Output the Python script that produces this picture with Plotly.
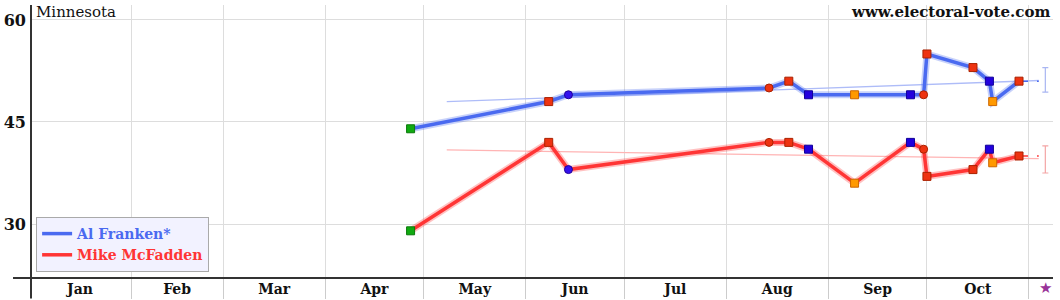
import plotly.graph_objects as go

# ---- data ----
poll_dates = ['2014-04-27', '2014-06-08', '2014-06-14', '2014-08-14', '2014-08-20',
              '2014-08-26', '2014-09-09', '2014-09-26', '2014-09-30', '2014-10-01',
              '2014-10-15', '2014-10-20', '2014-10-21', '2014-10-29']
franken = [44, 48, 49, 50, 51, 49, 49, 49, 49, 55, 53, 51, 48, 51]
mcfadden = [29, 42, 38, 42, 42, 41, 36, 42, 41, 37, 38, 41, 39, 40]
poll_symbol = ['square', 'square', 'circle', 'circle', 'square', 'square', 'square',
               'square', 'circle', 'square', 'square', 'square', 'square', 'square']
poll_color = ['#11aa11', '#ee3311', '#3311ee', '#ee3311', '#ee3311', '#2200dd', '#ff9900',
              '#2200dd', '#ee3311', '#ee3311', '#ee3311', '#2200dd', '#ff9900', '#ee3311']
poll_edge = ['#0a7a0a', '#aa2200', '#220099', '#aa2200', '#aa2200', '#110099', '#cc6600',
             '#110099', '#aa2200', '#aa2200', '#aa2200', '#110099', '#cc6600', '#aa2200']

trend_dates = ['2014-05-08', '2014-11-04']
franken_trend = [48.0, 51.1]
mcfadden_trend = [40.9, 39.6]

election_day = '2014-11-04'
projection_day = '2014-11-06'
franken_proj, franken_err = 51.2, 1.8
mcfadden_proj, mcfadden_err = 39.5, 2.0

y_ticks = [30, 45, 60]
names = ['Al Franken*', 'Mike McFadden']

BLUE = '#4a6af0'
RED = '#ff3535'
SERIF = 'DejaVu Serif'

fig = go.Figure()

# trend lines
fig.add_trace(go.Scatter(x=trend_dates, y=franken_trend, mode='lines',
                         line=dict(color='#aebcf8', width=1.3), showlegend=False, hoverinfo='skip'))
fig.add_trace(go.Scatter(x=trend_dates, y=mcfadden_trend, mode='lines',
                         line=dict(color='#ffb4b4', width=1.3), showlegend=False, hoverinfo='skip'))

# dashed projection to election day
fig.add_trace(go.Scatter(x=[poll_dates[-1], election_day], y=[franken[-1], franken[-1]], mode='lines',
                         line=dict(color=BLUE, width=1.5, dash='dash'), showlegend=False, hoverinfo='skip'))
fig.add_trace(go.Scatter(x=[poll_dates[-1], election_day], y=[mcfadden[-1], mcfadden[-1]], mode='lines',
                         line=dict(color=RED, width=1.5, dash='dash'), showlegend=False, hoverinfo='skip'))

# error bars
fig.add_trace(go.Scatter(x=[projection_day], y=[franken_proj], mode='markers',
                         marker=dict(size=1, color='rgba(0,0,0,0)'),
                         error_y=dict(type='constant', value=franken_err, color='#a9b6f2', thickness=1.2, width=3),
                         showlegend=False, hoverinfo='skip', cliponaxis=False))
fig.add_trace(go.Scatter(x=[projection_day], y=[mcfadden_proj], mode='markers',
                         marker=dict(size=1, color='rgba(0,0,0,0)'),
                         error_y=dict(type='constant', value=mcfadden_err, color='#f4a5a5', thickness=1.2, width=3),
                         showlegend=False, hoverinfo='skip', cliponaxis=False))

# glow + main lines
for vals, col, glow, nm in [(franken, BLUE, 'rgba(74,106,240,0.30)', names[0]),
                            (mcfadden, RED, 'rgba(255,53,53,0.30)', names[1])]:
    fig.add_trace(go.Scatter(x=poll_dates, y=vals, mode='lines', line=dict(color=glow, width=7),
                             showlegend=False, hoverinfo='skip'))
    fig.add_trace(go.Scatter(x=poll_dates, y=vals, mode='lines', line=dict(color=col, width=3.5),
                             name="<span style='color:%s;font-family:DejaVu Serif;font-weight:bold'>%s</span>" % (col, nm)))

for vals in [franken, mcfadden]:
    fig.add_trace(go.Scatter(x=poll_dates, y=vals, mode='markers',
                             marker=dict(symbol=poll_symbol, color=poll_color, size=8,
                                         line=dict(color=poll_edge, width=1)),
                             showlegend=False))

fig.update_layout(
    width=1060, height=300,
    margin=dict(l=31, r=7, t=5, b=22, autoexpand=False),
    paper_bgcolor='white', plot_bgcolor='white',
    font=dict(family=SERIF, color='#111'),
    showlegend=True,
    legend=dict(x=0.005, y=0.022, xanchor='left', yanchor='bottom',
                bgcolor='#f2f2ff', bordercolor='#aaaaaa', borderwidth=1,
                font=dict(family=SERIF, size=14, weight='bold'), tracegroupgap=0, itemwidth=30),
    xaxis=dict(type='date', range=['2014-01-01 14:00', '2014-11-08 08:00'], automargin=False,
               tick0='2014-01-01', dtick='M1', tickformat='%b', ticklabelmode='period',
               showgrid=True, gridcolor='#dddddd', gridwidth=1,
               ticks='outside', ticklen=20, tickcolor='#cccccc', tickwidth=1,
               ticklabelstandoff=-22,
               tickfont=dict(family=SERIF, size=14, color='#111', weight='bold'),
               showline=False, zeroline=False),
    yaxis=dict(range=[22.06, 62.2], tickvals=y_ticks, showgrid=True, gridcolor='#dddddd',
               automargin=False,
               tickfont=dict(family=SERIF, size=16, color='#111', weight='bold'),
               ticks='', ticklabelstandoff=4, showline=False, zeroline=False),
    shapes=[
        dict(type='line', xref='paper', yref='paper', x0=-0.0176, x1=1, y0=0, y1=0,
             line=dict(color='#333333', width=2)),
        dict(type='line', xref='paper', yref='paper', x0=0, x1=0, y0=-0.075, y1=1,
             line=dict(color='#333333', width=2)),
    ],
    annotations=[
        dict(text='Minnesota', xref='paper', yref='paper', x=0.003, y=1.015, xanchor='left',
             yanchor='top', showarrow=False, font=dict(family=SERIF, size=15, color='#111')),
        dict(text='<b>www.electoral-vote.com</b>', xref='paper', yref='paper', x=0.999, y=1.015,
             xanchor='right', yanchor='top', showarrow=False,
             font=dict(family=SERIF, size=15, color='#111')),
        dict(text='★', xref='x', yref='paper', x=projection_day, y=-0.037, xanchor='center',
             yanchor='middle', showarrow=False, font=dict(family='DejaVu Sans', size=15, color='#993399')),
    ],
)

fig.write_html('out.html')
